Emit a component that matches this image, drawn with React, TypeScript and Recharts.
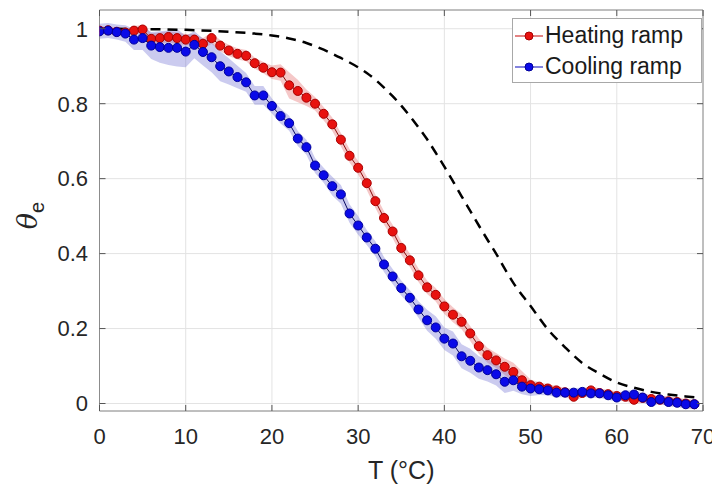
import React from 'react';
import { ComposedChart, Line, Area, XAxis, YAxis, CartesianGrid, Legend, ReferenceArea } from 'recharts';

const temperatures = [
  0, 1, 2, 3, 4, 5, 6, 7, 8, 9, 10, 11, 12, 13, 14, 15, 16, 17, 18, 19,
  20, 21, 22, 23, 24, 25, 26, 27, 28, 29, 30, 31, 32, 33, 34, 35, 36, 37, 38, 39,
  40, 41, 42, 43, 44, 45, 46, 47, 48, 49, 50, 51, 52, 53, 54, 55, 56, 57, 58, 59,
  60, 61, 62, 63, 64, 65, 66, 67, 68, 69,
];

const heating = [
  0.995, 0.996, 0.992, 0.99, 0.995, 0.998, 0.973, 0.975, 0.978, 0.975,
  0.971, 0.971, 0.96, 0.975, 0.955, 0.942, 0.933, 0.928, 0.908, 0.896,
  0.884, 0.883, 0.849, 0.834, 0.816, 0.8, 0.773, 0.745, 0.704, 0.661,
  0.629, 0.588, 0.54, 0.495, 0.459, 0.415, 0.382, 0.342, 0.31, 0.29,
  0.259, 0.237, 0.218, 0.187, 0.153, 0.129, 0.115, 0.098, 0.084, 0.062,
  0.049, 0.045, 0.04, 0.035, 0.03, 0.018, 0.028, 0.035, 0.028, 0.025,
  0.02, 0.018, 0.01, 0.015, 0.012, 0.01, 0.006, 0.004, 0.0, -0.002,
];

const heatingStd = [
  0.01, 0.01, 0.01, 0.01, 0.012, 0.012, 0.015, 0.015, 0.015, 0.015,
  0.015, 0.015, 0.015, 0.015, 0.015, 0.015, 0.015, 0.015, 0.015, 0.015,
  0.018, 0.022, 0.035, 0.03, 0.022, 0.018, 0.018, 0.018, 0.018, 0.018,
  0.018, 0.018, 0.018, 0.018, 0.018, 0.018, 0.018, 0.018, 0.018, 0.018,
  0.02, 0.02, 0.02, 0.02, 0.02, 0.02, 0.02, 0.022, 0.025, 0.025,
  0.015, 0.012, 0.012, 0.012, 0.012, 0.012, 0.012, 0.012, 0.012, 0.012,
  0.012, 0.012, 0.012, 0.012, 0.012, 0.012, 0.012, 0.012, 0.012, 0.012,
];

const cooling = [
  0.993, 0.995, 0.991, 0.987, 0.971, 0.975, 0.955, 0.951, 0.949, 0.949,
  0.939, 0.957, 0.938, 0.924, 0.9, 0.886, 0.871, 0.857, 0.822, 0.822,
  0.794, 0.767, 0.748, 0.707, 0.684, 0.635, 0.609, 0.58, 0.558, 0.507,
  0.475, 0.443, 0.413, 0.371, 0.339, 0.308, 0.282, 0.251, 0.222, 0.203,
  0.173, 0.16, 0.126, 0.114, 0.096, 0.089, 0.078, 0.058, 0.062, 0.045,
  0.04, 0.038, 0.035, 0.029, 0.029, 0.029, 0.031, 0.027, 0.027, 0.022,
  0.016, 0.022, 0.024, 0.016, 0.004, 0.011, 0.004, 0.002, -0.002, -0.002,
];

const coolingStd = [
  0.02, 0.02, 0.02, 0.022, 0.028, 0.032, 0.036, 0.042, 0.046, 0.05,
  0.042, 0.036, 0.036, 0.04, 0.04, 0.035, 0.03, 0.025, 0.025, 0.025,
  0.02, 0.02, 0.02, 0.02, 0.02, 0.02, 0.02, 0.025, 0.025, 0.025,
  0.025, 0.02, 0.02, 0.02, 0.02, 0.02, 0.02, 0.022, 0.028, 0.03,
  0.03, 0.032, 0.032, 0.032, 0.03, 0.03, 0.03, 0.03, 0.028, 0.02,
  0.02, 0.015, 0.013, 0.012, 0.012, 0.012, 0.012, 0.012, 0.012, 0.012,
  0.012, 0.012, 0.012, 0.012, 0.012, 0.012, 0.012, 0.012, 0.012, 0.012,
];

const modelT = [
  0, 5, 10, 15, 18, 20, 22, 24, 26, 28, 30, 31, 32, 33, 34, 35, 36, 37, 38, 39,
  40, 41, 42, 43, 44, 45, 46, 47, 48, 50, 52, 54, 56, 58, 60, 62, 64, 66, 68, 69.5,
];
const modelTheta = [
  1.0, 0.999, 0.997, 0.992, 0.987, 0.982, 0.974, 0.962, 0.944, 0.922, 0.897, 0.882,
  0.864, 0.843, 0.82, 0.795, 0.767, 0.737, 0.705, 0.669, 0.632, 0.593, 0.553, 0.514,
  0.475, 0.437, 0.4, 0.36, 0.322, 0.26, 0.198, 0.15, 0.108, 0.08, 0.056, 0.042,
  0.031, 0.024, 0.019, 0.016,
];

const xTicks = [0, 10, 20, 30, 40, 50, 60, 70];
const yTicks = [0, 0.2, 0.4, 0.6, 0.8, 1];
const seriesNames = ['Heating ramp', 'Cooling ramp'];

const CHART_W = 712;
const CHART_H = 482;
const MARGIN = { top: 2, right: 17, bottom: 0, left: 0 };
const Y_AXIS_W = 91.5;
const X_AXIS_H = 79;
const X_TICK_MARGIN = 17;
const Y_TICK_MARGIN = 11.5;
const PLOT_TOP = MARGIN.top;
const PLOT_BOTTOM = CHART_H - MARGIN.bottom - X_AXIS_H;
const PLOT_LEFT = MARGIN.left + Y_AXIS_W;
const PLOT_RIGHT = CHART_W - MARGIN.right;

const FONT = '"Liberation Sans", Arial, Helvetica, sans-serif';
const TICK_FONT_SIZE = 22;
const TEXT_COLOR = '#262626';
const TICK_COLOR = '#555555';
const RED_FILL = '#e8120f';
const RED_EDGE = '#a80000';
const RED_LINE = '#8a0a0a';
const BLUE_FILL = '#0a0ae8';
const BLUE_EDGE = '#00009a';
const BLUE_LINE = '#0a0a60';

const chartData = temperatures.map((t, i) => ({
  T: t,
  heat: heating[i],
  cool: cooling[i],
  heatBand: [heating[i] - heatingStd[i], heating[i] + heatingStd[i]],
  coolBand: [cooling[i] - coolingStd[i], cooling[i] + coolingStd[i]],
}));

const modelData = modelT.map((t, i) => ({ T: t, model: modelTheta[i] }));

const XTick = (props: any) => {
  const { x, y, payload } = props;
  return (
    <g>
      <line x1={x} x2={x} y1={PLOT_BOTTOM} y2={PLOT_BOTTOM - 6} stroke={TICK_COLOR} strokeWidth={1} />
      <line x1={x} x2={x} y1={PLOT_TOP} y2={PLOT_TOP + 6} stroke={TICK_COLOR} strokeWidth={1} />
      <text x={x} y={y} dy="0.71em" textAnchor="middle" fontFamily={FONT} fontSize={TICK_FONT_SIZE} fill={TEXT_COLOR}>
        {String(payload.value)}
      </text>
    </g>
  );
};

const YTick = (props: any) => {
  const { x, y, payload } = props;
  return (
    <g>
      <line x1={PLOT_LEFT} x2={PLOT_LEFT + 6} y1={y} y2={y} stroke={TICK_COLOR} strokeWidth={1} />
      <line x1={PLOT_RIGHT} x2={PLOT_RIGHT - 6} y1={y} y2={y} stroke={TICK_COLOR} strokeWidth={1} />
      <text x={x} y={y} dy="0.355em" textAnchor="end" fontFamily={FONT} fontSize={TICK_FONT_SIZE} fill={TEXT_COLOR}>
        {String(payload.value)}
      </text>
    </g>
  );
};

const XLabel = (props: any) => {
  const vb = props.viewBox || {};
  const cx = (vb.x || 0) + (vb.width || 0) / 2;
  const cy = (vb.y || 0) + 68;
  return (
    <text x={cx} y={cy} textAnchor="middle" fontFamily={FONT} fontSize={25} fill={TEXT_COLOR}>
      T (°C)
    </text>
  );
};

const YLabel = (props: any) => {
  const vb = props.viewBox || {};
  const cx = (vb.x || 0) + 29;
  const cy = (vb.y || 0) + (vb.height || 0) / 2 + 5;
  return (
    <text
      x={cx}
      y={cy}
      transform={`rotate(-90, ${cx}, ${cy})`}
      textAnchor="middle"
      fontFamily={FONT}
      fill={TEXT_COLOR}
    >
      <tspan fontStyle="italic" fontSize={27} fontFamily='"DejaVu Serif", "Liberation Serif", serif'>θ</tspan>
      <tspan fontSize={20} dy={7}>e</tspan>
    </text>
  );
};

const LegendBox = () => {
  const colors = [
    { fill: RED_FILL, edge: RED_EDGE, line: '#d03030' },
    { fill: BLUE_FILL, edge: BLUE_EDGE, line: '#3030c8' },
  ];
  return (
    <div
      style={{
        width: 190,
        height: 65,
        boxSizing: 'border-box',
        border: '1px solid #a8a8a8',
        background: '#ffffff',
        fontFamily: FONT,
        fontSize: 23,
        color: '#1a1a1a',
        paddingTop: 1,
      }}
    >
      {seriesNames.map((name, i) => (
        <div key={name} style={{ display: 'flex', alignItems: 'center', height: 31, whiteSpace: 'nowrap' }}>
          <svg width={32} height={14} style={{ display: 'block' }}>
            <line x1={2} x2={30} y1={7} y2={7} stroke={colors[i].line} strokeWidth={1.2} />
            <circle cx={16} cy={7} r={4} fill={colors[i].fill} stroke={colors[i].edge} strokeWidth={1} />
          </svg>
          <span style={{ marginLeft: 0 }}>{name}</span>
        </div>
      ))}
    </div>
  );
};

export default function App() {
  return (
    <div style={{ width: CHART_W, height: CHART_H, position: 'relative', background: '#fff' }}>
      <ComposedChart width={CHART_W} height={CHART_H} data={chartData} margin={MARGIN}>
        <CartesianGrid stroke="#e3e3e3" strokeWidth={1} />
        <XAxis
          type="number"
          dataKey="T"
          domain={[0, 70]}
          ticks={xTicks}
          allowDataOverflow
          axisLine={false}
          tickLine={false}
          tickSize={0}
          tickMargin={X_TICK_MARGIN}
          height={X_AXIS_H}
          tick={<XTick />}
          label={<XLabel />}
          interval={0}
        />
        <YAxis
          type="number"
          domain={[-0.02, 1.05]}
          ticks={yTicks}
          allowDataOverflow
          axisLine={false}
          tickLine={false}
          tickSize={0}
          tickMargin={Y_TICK_MARGIN}
          width={Y_AXIS_W}
          tick={<YTick />}
          label={<YLabel />}
          interval={0}
        />
        <ReferenceArea
          x1={0}
          x2={70}
          y1={-0.02}
          y2={1.05}
          fill="none"
          fillOpacity={0}
          stroke="#8c8c8c"
          strokeWidth={1}
          ifOverflow="visible"
        />
        <Area
          dataKey="heatBand"
          type="linear"
          stroke="none"
          fill="#e36060"
          fillOpacity={0.35}
          isAnimationActive={false}
          activeDot={false}
          legendType="none"
        />
        <Area
          dataKey="coolBand"
          type="linear"
          stroke="none"
          fill="#6a6ad0"
          fillOpacity={0.35}
          isAnimationActive={false}
          activeDot={false}
          legendType="none"
        />
        <Line
          data={modelData}
          dataKey="model"
          type="monotone"
          stroke="#000000"
          strokeWidth={2.5}
          strokeDasharray="10 7"
          dot={false}
          activeDot={false}
          isAnimationActive={false}
          legendType="none"
        />
        <Line
          dataKey="heat"
          name={seriesNames[0]}
          type="linear"
          stroke={RED_LINE}
          strokeWidth={1}
          dot={{ r: 4.5, fill: RED_FILL, stroke: RED_EDGE, strokeWidth: 1 }}
          activeDot={false}
          isAnimationActive={false}
        />
        <Line
          dataKey="cool"
          name={seriesNames[1]}
          type="linear"
          stroke={BLUE_LINE}
          strokeWidth={1}
          dot={{ r: 4.5, fill: BLUE_FILL, stroke: BLUE_EDGE, strokeWidth: 1 }}
          activeDot={false}
          isAnimationActive={false}
        />
        <Legend
          layout="horizontal"
          verticalAlign="middle"
          align="center"
          content={<LegendBox />}
          wrapperStyle={{ position: 'absolute', left: 504, top: 10, width: 190, height: 65 }}
        />
      </ComposedChart>
    </div>
  );
}
